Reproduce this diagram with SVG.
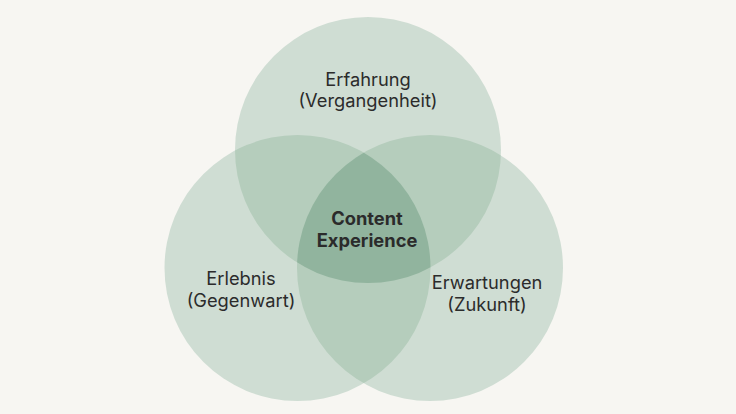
<svg xmlns="http://www.w3.org/2000/svg" width="736" height="414" viewBox="0 0 736 414">
<style>
.c1{fill:#cfddd3}
.c2{fill:#b5cdbc}
.c3{fill:#91b49e}
.t{font-family:Inter,"Noto Sans","DejaVu Sans",sans-serif;font-size:18.3px;fill:#2b2b2b;text-anchor:middle}
.b{font-weight:700}
</style>
<defs>
<clipPath id="cT"><circle cx="368" cy="150" r="133"/></clipPath>
<clipPath id="cL"><circle cx="297.5" cy="268" r="133"/></clipPath>
<clipPath id="cR"><circle cx="430" cy="268" r="133"/></clipPath>
</defs>
<rect width="736" height="414" fill="#f7f6f2"/>
<g id="circles">
<circle id="top" class="c1" cx="368" cy="150" r="133"/>
<circle id="left" class="c1" cx="297.5" cy="268" r="133"/>
<circle id="right" class="c1" cx="430" cy="268" r="133"/>
</g>
<g id="overlaps">
<g clip-path="url(#cT)"><circle class="c2" cx="297.5" cy="268" r="133"/><circle class="c2" cx="430" cy="268" r="133"/></g>
<g clip-path="url(#cL)"><circle class="c2" cx="430" cy="268" r="133"/></g>
<g clip-path="url(#cT)"><g clip-path="url(#cL)"><circle class="c3" cx="430" cy="268" r="133"/></g></g>
</g>
<g id="labels">
<g id="n-top"><text class="t" x="368" y="86">Erfahrung</text><text class="t" x="368" y="107">(Vergangenheit)</text></g>
<g id="n-center"><text class="t b" x="367" y="225">Content</text><text class="t b" x="367" y="247">Experience</text></g>
<g id="n-left"><text class="t" x="241" y="285">Erlebnis</text><text class="t" x="241" y="307">(Gegenwart)</text></g>
<g id="n-right"><text class="t" x="487" y="289">Erwartungen</text><text class="t" x="487" y="311">(Zukunft)</text></g>
</g>
</svg>
